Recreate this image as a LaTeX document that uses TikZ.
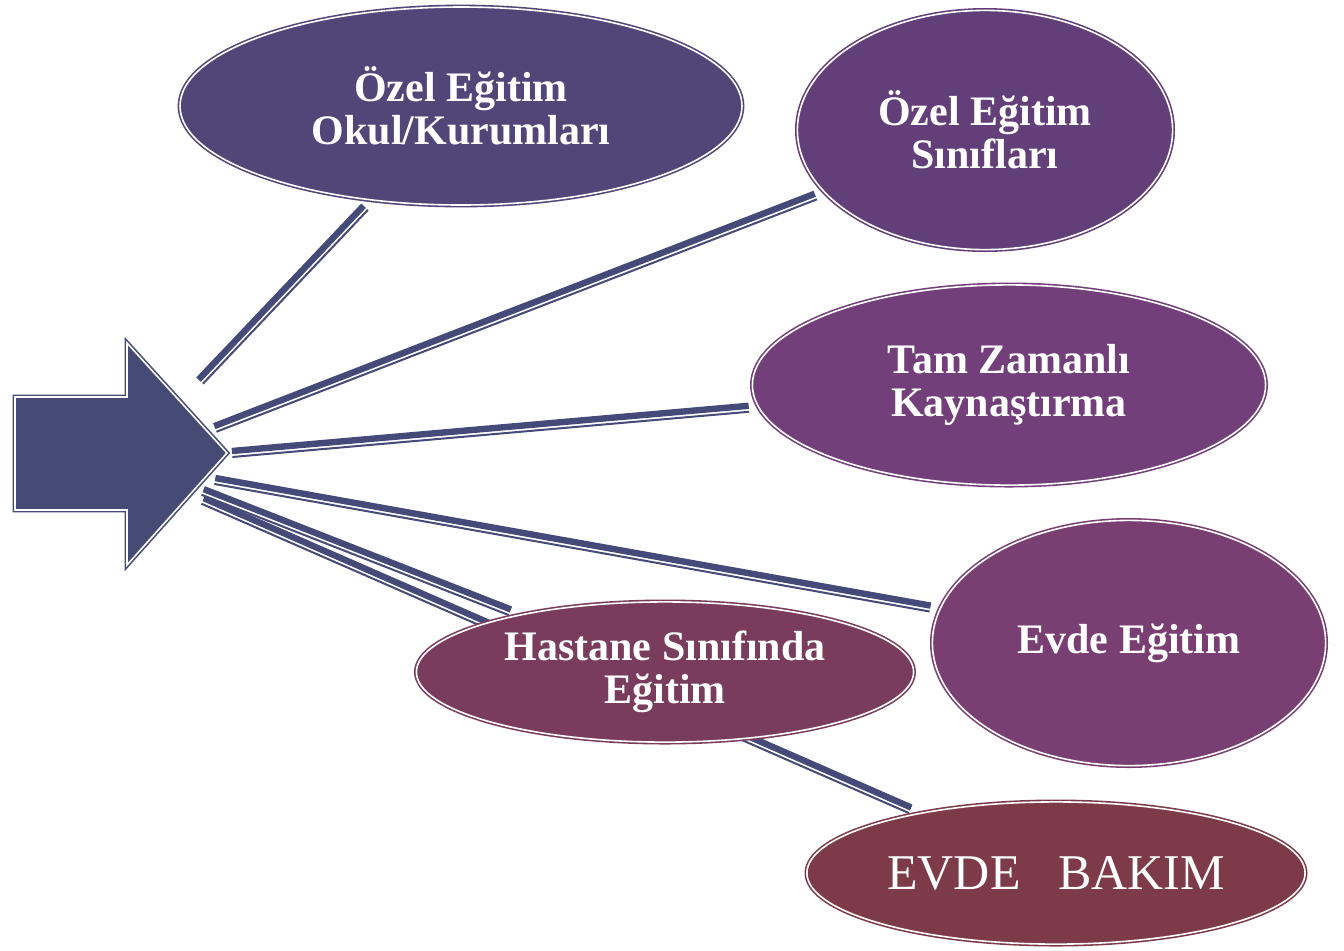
\documentclass[tikz,border=0pt]{standalone}
\usepackage{fontspec}
\setmainfont{Liberation Serif}
\usetikzlibrary{calc}
\usetikzlibrary{backgrounds}
\usetikzlibrary{shapes.geometric}

\definecolor{arrowblue}{HTML}{464B76}
\definecolor{linkblue}{HTML}{454A78}
\definecolor{okulc}{HTML}{524678}
\definecolor{sinifc}{HTML}{623F78}
\definecolor{tamc}{HTML}{723F7A}
\definecolor{evdec}{HTML}{7A3F72}
\definecolor{hastanec}{HTML}{7A3C5C}
\definecolor{bakimc}{HTML}{7D3B4A}

% two parallel bands from a start coordinate to a node
\newcommand{\bandlink}[2]{%
  \path (#1) -- (#2) coordinate[pos=1] (#1-end);
  \draw[bandthick] ($(#1)!1pt!90:(#1-end)$) -- ($(#1-end)!1pt!-90:(#1)$);
  \draw[bandthin] ($(#1)!2pt!-90:(#1-end)$) -- ($(#1-end)!2pt!90:(#1)$);
}

\begin{document}
\begin{tikzpicture}[x=0.5pt,y=-0.5pt,
    bubble/.style={ellipse, draw=#1, fill=#1, double=white, double distance=0.8pt,
      line width=0.8pt, inner sep=0pt, text=white, align=center,
      font=\fontsize{21}{21.5}\selectfont\bfseries},
    bandthick/.style={linkblue, line width=3.2pt, shorten >=4.5pt},
    bandthin/.style={linkblue, line width=1pt, shorten >=4.5pt}]
    \useasboundingbox (0,0) rectangle (1344,950);

    \node[bubble=okulc, minimum width=281pt, minimum height=99pt] (okul) at (461,106)
        {Özel Eğitim\\Okul/Kurumları};
    \node[bubble=sinifc, minimum width=187.6pt, minimum height=119.6pt] (sinif) at (985,130)
        {Özel Eğitim\\Sınıfları};
    \node[bubble=tamc, minimum width=256.6pt, minimum height=100.1pt] (tam) at (1009,385)
        {Tam Zamanlı\\Kaynaştırma};
    \node[bubble=evdec, minimum width=196.6pt, minimum height=122.6pt] (evde) at (1129,643)
        {Evde Eğitim};
    \node[bubble=hastanec, minimum width=248.6pt, minimum height=70.1pt] (hastane) at (665,672)
        {Hastane Sınıfında\\Eğitim};
    \node[bubble=bakimc, minimum width=249.1pt, minimum height=71.1pt,
        font=\fontsize{25}{28}\selectfont\mdseries] (bakim) at (1056,873)
        {EVDE\ \ \ BAKIM};

    % big arrow
    \draw[arrowblue, fill=arrowblue, double=white, double distance=0.8pt, line width=0.8pt]
        (15,397) -- (127,397) -- (127,343) -- (227,453) -- (127,565) -- (127,510)
        -- (15,510) -- cycle;

    \coordinate (s1) at (200,381);
    \coordinate (s2) at (215,428);
    \coordinate (s3) at (232,453);
    \coordinate (s4) at (215,480);
    \coordinate (s5) at (203,491);
    \coordinate (s6) at (203,500);

    \begin{scope}[on background layer]
        \fill[white] (0,0) rectangle (1344,950);
        \bandlink{s1}{okul}
        \bandlink{s2}{sinif}
        \bandlink{s3}{tam}
        \bandlink{s4}{evde}
        \bandlink{s5}{hastane}
        \bandlink{s6}{bakim}
    \end{scope}
\end{tikzpicture}
\end{document}
